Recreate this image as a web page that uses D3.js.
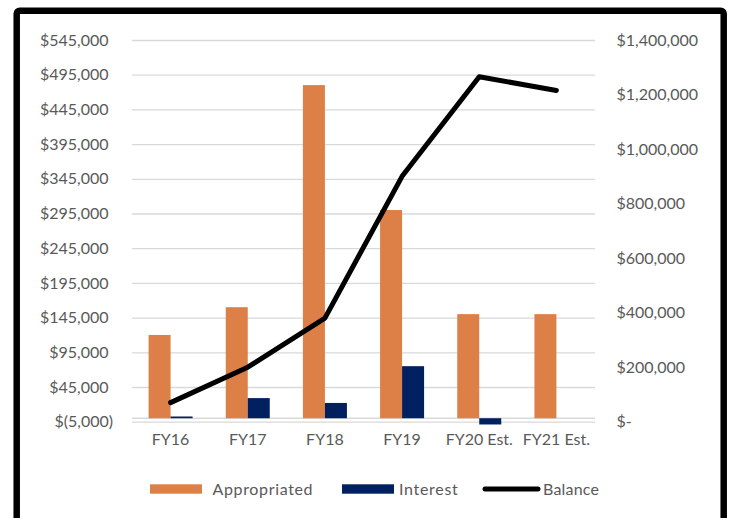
<!DOCTYPE html>
<html>
<head>
<meta charset="utf-8">
<script src="https://cdn.jsdelivr.net/npm/d3@7/dist/d3.min.js"></script>
<style>
  html, body { margin: 0; padding: 0; background: #fff; }
  svg { display: block; }
  text { font-family: Lato, "Open Sans", sans-serif; fill: #595959; }
</style>
</head>
<body>
<svg id="chart" width="730" height="518"></svg>
<script>
// Fund history by fiscal year
const categories   = ["FY16", "FY17", "FY18", "FY19", "FY20 Est.", "FY21 Est."];
const appropriated = [120000, 160000, 480000, 300000, 150000, 150000];
const interest     = [2500, 29000, 22000, 75000, -9000, 0];
const balance      = [70000, 200000, 380000, 900000, 1265000, 1215000];

const leftTicks  = [-5000, 45000, 95000, 145000, 195000, 245000, 295000, 345000, 395000, 445000, 495000, 545000];
const rightTicks = [0, 200000, 400000, 600000, 800000, 1000000, 1200000, 1400000];
const seriesNames = ["Appropriated", "Interest", "Balance"];

const ORANGE = "#DD8047", NAVY = "#002060", GRID = "#d9d9d9";
const FS = "16px";

const svg = d3.select("#chart");
const plot = { left: 132, right: 595, top: 40, bottom: 421.7 };

const x = d3.scaleBand().domain(categories).range([plot.left, plot.right]).padding(0);
const yL = d3.scaleLinear().domain([-5000, 545000]).range([plot.bottom, plot.top]);
const yR = d3.scaleLinear().domain([0, 1400000]).range([plot.bottom, plot.top]);
const barW = 22;

// Outer frame
svg.append("rect")
  .attr("x", 16.7).attr("y", 10.7)
  .attr("width", 707).attr("height", 530)
  .attr("rx", 3)
  .attr("fill", "none").attr("stroke", "#000").attr("stroke-width", 6.5);

// Horizontal gridlines from the left axis
const grid = svg.append("g").attr("transform", `translate(${plot.left},0)`)
  .call(d3.axisLeft(yL).tickValues(leftTicks).tickSize(-(plot.right - plot.left)).tickFormat(""));
grid.select(".domain").remove();
grid.selectAll("line").attr("stroke", GRID).attr("stroke-width", 1.3);

// Left axis labels (accounting style)
const fmt = d3.format(",");
const leftAxis = svg.append("g").attr("transform", `translate(108.5,0)`)
  .call(d3.axisLeft(yL).tickValues(leftTicks).tickSize(0).tickPadding(0)
    .tickFormat(v => v < 0 ? `$(${fmt(-v)})` : `$${fmt(v)}`));
leftAxis.select(".domain").remove();
leftAxis.selectAll("text")
  .style("font-size", FS).attr("fill", "#595959")
  .attr("dx", d => d < 0 ? 4.5 : 0);

// Right axis labels
const rightAxis = svg.append("g").attr("transform", `translate(616.5,0)`)
  .call(d3.axisRight(yR).tickValues(rightTicks).tickSize(0).tickPadding(0)
    .tickFormat(v => v === 0 ? "$-" : `$${fmt(v)}`));
rightAxis.select(".domain").remove();
rightAxis.selectAll("text").style("font-size", FS).attr("fill", "#595959");

// Category axis line at zero
svg.append("line")
  .attr("x1", plot.left).attr("x2", plot.right)
  .attr("y1", yL(0)).attr("y2", yL(0))
  .attr("stroke", GRID).attr("stroke-width", 1.3);

// Category labels
const xAxis = svg.append("g").attr("transform", `translate(0,434)`)
  .call(d3.axisBottom(x).tickSize(0).tickPadding(0));
xAxis.select(".domain").remove();
xAxis.selectAll("text").style("font-size", FS).attr("fill", "#595959");

// Bars
const cx = c => x(c) + x.bandwidth() / 2;
svg.append("g").selectAll("rect").data(categories).join("rect")
  .attr("x", c => cx(c) - barW)
  .attr("width", barW)
  .attr("y", (c, i) => yL(Math.max(0, appropriated[i])))
  .attr("height", (c, i) => Math.abs(yL(appropriated[i]) - yL(0)))
  .attr("fill", ORANGE);

svg.append("g").selectAll("rect").data(categories).join("rect")
  .attr("x", c => cx(c))
  .attr("width", barW)
  .attr("y", (c, i) => yL(Math.max(0, interest[i])))
  .attr("height", (c, i) => Math.abs(yL(interest[i]) - yL(0)))
  .attr("fill", NAVY);

// Balance line on the right axis
const line = d3.line().x((d, i) => cx(categories[i])).y(d => yR(d));
svg.append("path").datum(balance)
  .attr("d", line)
  .attr("fill", "none").attr("stroke", "#000")
  .attr("stroke-width", 5).attr("stroke-linecap", "round").attr("stroke-linejoin", "round");

// Legend
const lg = svg.append("g");
const ly = 489;
lg.append("rect").attr("x", 150).attr("y", ly - 4.7).attr("width", 52).attr("height", 9.4).attr("fill", ORANGE);
lg.append("text").attr("x", 212.5).attr("y", ly).attr("dy", "0.35em").style("font-size", FS)
  .style("letter-spacing", "0.65px").text(seriesNames[0]);
lg.append("rect").attr("x", 342).attr("y", ly - 4.7).attr("width", 52).attr("height", 9.4).attr("fill", NAVY);
lg.append("text").attr("x", 399).attr("y", ly).attr("dy", "0.35em").style("font-size", FS)
  .style("letter-spacing", "0.7px").text(seriesNames[1]);
lg.append("line").attr("x1", 485).attr("x2", 538).attr("y1", ly).attr("y2", ly)
  .attr("stroke", "#000").attr("stroke-width", 5).attr("stroke-linecap", "round");
lg.append("text").attr("x", 543).attr("y", ly).attr("dy", "0.35em").style("font-size", FS)
  .style("letter-spacing", "0.2px").text(seriesNames[2]);
</script>
</body>
</html>
